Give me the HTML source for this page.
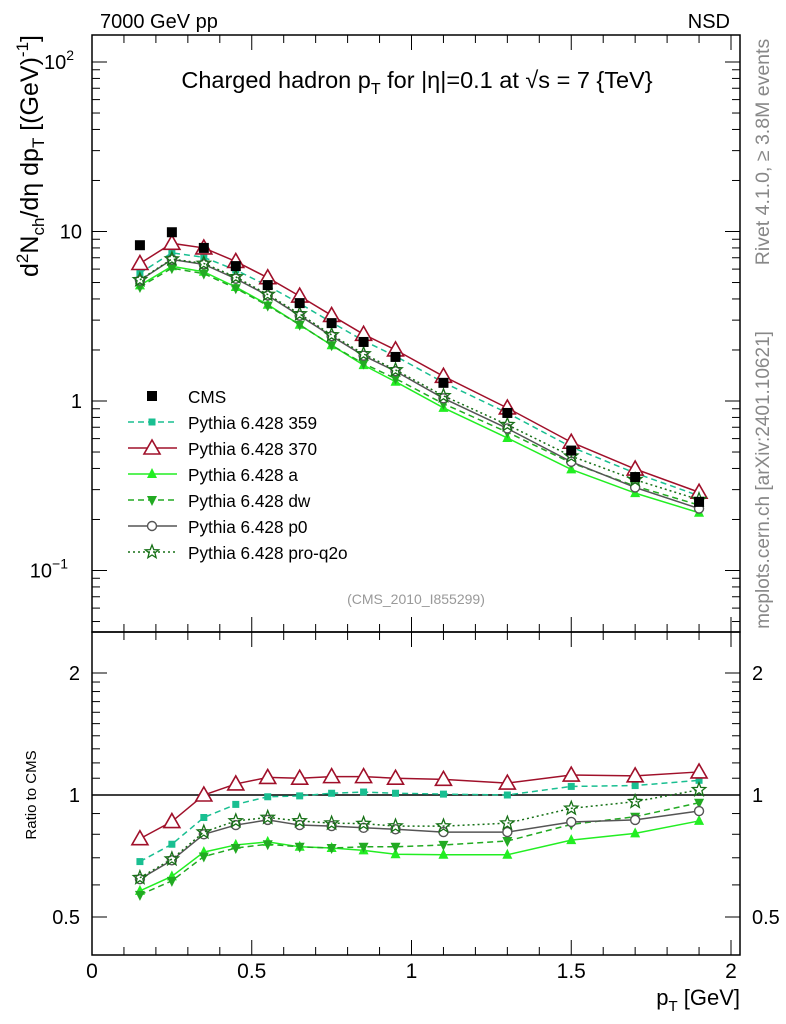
<!DOCTYPE html>
<html><head><meta charset="utf-8"><style>
html,body{margin:0;padding:0;background:#fff;}
svg{display:block;font-family:"Liberation Sans",sans-serif;}
</style></head><body>
<svg id="c" width="786" height="1024" viewBox="0 0 786 1024"></svg>
<script>
const xs = [0.15,0.25,0.35,0.45,0.55,0.65,0.75,0.85,0.95,1.1,1.3,1.5,1.7,1.9];
const cms = [8.3,9.9,8.0,6.25,4.83,3.78,2.88,2.23,1.82,1.28,0.85,0.51,0.356,0.254];
const r359 = [0.685,0.756,0.88,0.948,0.99,0.995,1.01,1.017,1.01,1.005,1.0,1.05,1.055,1.087];
const r370 = [0.78,0.86,1.0,1.065,1.105,1.10,1.11,1.11,1.10,1.093,1.07,1.12,1.115,1.14];
const rA = [0.58,0.63,0.723,0.753,0.766,0.745,0.74,0.73,0.714,0.712,0.712,0.774,0.804,0.863];
const rDW = [0.567,0.614,0.705,0.74,0.756,0.745,0.74,0.745,0.745,0.753,0.77,0.846,0.884,0.957];
const rP0 = [0.62,0.69,0.80,0.843,0.868,0.843,0.838,0.83,0.823,0.81,0.81,0.858,0.868,0.913];
const rPQ = [0.625,0.695,0.81,0.863,0.88,0.863,0.852,0.85,0.838,0.838,0.852,0.927,0.963,1.03];
const xTicks = [0,0.5,1,1.5,2];
const xTickLabels = ["0","0.5","1","1.5","2"];

const S = document.getElementById('c');
const NS = 'http://www.w3.org/2000/svg';
function el(tag, attrs, parent){const e=document.createElementNS(NS,tag);for(const k in attrs)e.setAttribute(k,attrs[k]);(parent||S).appendChild(e);return e;}
const L=92,R=740,T=35,M=632,B=955;
const X = v => L + v*319.5;
const Y = v => 401 - Math.log10(v)*169.5;
const YR = v => 795 - Math.log2(v)*122;

let f1=el('rect',{x:L,y:T,width:R-L,height:M-T,fill:'none',stroke:'#000','stroke-width':1.5});


let f2=el('rect',{x:L,y:M,width:R-L,height:B-M,fill:'none',stroke:'#000','stroke-width':1.5});



for(let i=0;i<=20;i++){const v=i/10;const x=X(v);const maj=i%5==0;const len=maj?15:8;
 for(const [y0,dir] of [[B,-1],[M,-1],[M,1],[T,1]]){
  let t=el('line',{x1:x,x2:x,y1:y0,y2:y0+dir*len,stroke:'#000','stroke-width':1});
  
  
 }}
xTicks.forEach((v,i)=>{let t=el('text',{x:X(v),y:978,'font-size':21,'text-anchor':'middle'});t.textContent=xTickLabels[i];
 
 });

for(let d=-2;d<=2;d++){for(let m=1;m<=9;m++){const v=m*Math.pow(10,d);const y=Y(v);if(y<T||y>M)continue;const len=m==1?15:8;
 for(const [x0,dir] of [[L,1],[R,-1]]){let t=el('line',{x1:x0,x2:x0+dir*len,y1:y,y2:y,stroke:'#000','stroke-width':1});
  
  }}}
const yLab=[[100,'10','2'],[10,'10',''],[1,'1',''],[0.1,'10','−1']];
yLab.forEach(([v,b,e])=>{let t=el('text',{x:80,y:Y(v)+7,'font-size':20,'text-anchor':'end'});t.textContent=b;
 if(e){let s=el('tspan',{dy:-9,'font-size':14},t);s.textContent=e;}
 t.setAttribute('x', e? 82-(e.length>1?14:8):82);
 
 });

const rt=[0.5,0.6,0.7,0.8,0.9,1,1.1,1.2,1.3,1.4,1.5,1.6,1.7,1.8,1.9,2];
rt.forEach(v=>{const y=YR(v);const maj=(v==0.5||v==1||v==2);const len=maj?15:8;
 for(const [x0,dir] of [[L,1],[R,-1]]){let t=el('line',{x1:x0,x2:x0+dir*len,y1:y,y2:y,stroke:'#000','stroke-width':1});
  
  }});
[[2,'2'],[1,'1'],[0.5,'0.5']].forEach(([v,s])=>{
 let t=el('text',{x:80,y:YR(v)+7,'font-size':20,'text-anchor':'end'});t.textContent=s;
 
 
 let t2=el('text',{x:752,y:YR(v)+7,'font-size':20,'text-anchor':'start'});t2.textContent=s;
 
 });
let one=el('line',{x1:L,x2:R,y1:YR(1),y2:YR(1),stroke:'#000','stroke-width':1.5});



function marker(type,x,y,col,g){
 let m;
 if(type=='sq'){m=el('rect',{x:x-5,y:y-5,width:10,height:10,fill:col},g);}
 else if(type=='sqs'){m=el('rect',{x:x-3.5,y:y-3.5,width:7,height:7,fill:col},g);}
 else if(type=='tri'){m=el('polygon',{points:`${x},${y-8} ${x-8},${y+6} ${x+8},${y+6}`,fill:'#fff',stroke:col,'stroke-width':1.6},g);}
 else if(type=='triF'){m=el('polygon',{points:`${x},${y-6} ${x-5},${y+4} ${x+5},${y+4}`,fill:col},g);}
 else if(type=='triD'){m=el('polygon',{points:`${x},${y+6} ${x-5},${y-4} ${x+5},${y-4}`,fill:col},g);}
 else if(type=='circ'){m=el('circle',{cx:x,cy:y,r:4.5,fill:'#fff',stroke:col,'stroke-width':1.4},g);}
 else if(type=='star'){let p=[];for(let k=0;k<10;k++){const a=-Math.PI/2+k*Math.PI/5;const rr=k%2?3:7;p.push((x+rr*Math.cos(a)).toFixed(1)+','+(y+rr*Math.sin(a)).toFixed(1));}
  m=el('polygon',{points:p.join(' '),fill:'none',stroke:col,'stroke-width':1.3},g);}
 
 
}
const series=[
 {name:'359',r:r359,col:'#19bf91',dash:'6,4',mk:'sqs',w:1.5},
 {name:'370',r:r370,col:'#a0102a',dash:'',mk:'tri',w:1.5},
 {name:'a',r:rA,col:'#22ee22',dash:'',mk:'triF',w:1.5},
 {name:'dw',r:rDW,col:'#22aa22',dash:'6,4',mk:'triD',w:1.5},
 {name:'p0',r:rP0,col:'#555555',dash:'',mk:'circ',w:1.5},
 {name:'pro-q2o',r:rPQ,col:'#167016',dash:'2,3',mk:'star',w:1.5},
];
series.forEach(s=>{
 const g=el('g',{});
 
 
 const main=xs.map((x,i)=>[X(x),Y(cms[i]*s.r[i])]);
 const rat=xs.map((x,i)=>[X(x),YR(s.r[i])]);
 [main,rat].forEach(pts=>{
  let pl=el('polyline',{points:pts.map(p=>p.join(',')).join(' '),fill:'none',stroke:s.col,'stroke-width':s.w,'stroke-dasharray':s.dash},g);
  
  
  pts.forEach(p=>marker(s.mk,p[0],p[1],s.col,g));
 });
});
const gc=el('g',{});


xs.forEach((x,i)=>marker('sq',X(x),Y(cms[i]),'#000',gc));

const lg=el('g',{});


const lrows=[{n:'CMS',mk:'sq',col:'#000',line:false}].concat(series.map(s=>({n:'Pythia 6.428 '+s.name,mk:s.mk,col:s.col,dash:s.dash,line:true})));
lrows.forEach((r,i)=>{const y=396+i*26;
 const e=el('g',{},lg);
 
 
 if(r.line){el('line',{x1:128,x2:177,y1:y,y2:y,stroke:r.col,'stroke-width':1.5,'stroke-dasharray':r.dash},e);}
 marker(r.mk,152,y,r.col,e);
 let t=el('text',{x:188,y:y+7,'font-size':17.2},e);t.textContent=r.n;});

function txt(name,attrs,content){let t=el('text',attrs);t.innerHTML=content;return t;}
txt('energy-label',{x:100,y:28,'font-size':20},'7000 GeV pp');
txt('process-label',{x:730,y:28,'font-size':20,'text-anchor':'end'},'NSD');
txt('plot-title',{x:417,y:88,'font-size':23.5,'text-anchor':'middle'},'Charged hadron p<tspan dy="6" font-size="16">T</tspan><tspan dy="-6"> for |η|=0.1 at √s = 7 {TeV}</tspan>');
txt('analysis-id',{x:416,y:604,'font-size':14,'text-anchor':'middle',fill:'#999'},'(CMS_2010_I855299)');
txt('y-axis-title',{x:0,y:0,'font-size':25,'text-anchor':'end',transform:'translate(38,35) rotate(-90)'},'d<tspan dy="-10" font-size="17">2</tspan><tspan dy="10">N</tspan><tspan dy="6" font-size="17">ch</tspan><tspan dy="-6">/dη  dp</tspan><tspan dy="6" font-size="17">T</tspan><tspan dy="-6"> [(GeV)</tspan><tspan dy="-10" font-size="17">-1</tspan><tspan dy="10">]</tspan>');
txt('ratio-axis-title',{x:0,y:0,'font-size':15,'text-anchor':'middle',transform:'translate(36,795) rotate(-90)'},'Ratio to CMS');
txt('x-axis-title',{x:740,y:1005,'font-size':22,'text-anchor':'end'},'p<tspan dy="6" font-size="15">T</tspan><tspan dy="-6"> [GeV]</tspan>');
txt('rivet-label',{x:0,y:0,'font-size':19.5,'text-anchor':'middle',fill:'#888',transform:'translate(769,152) rotate(-90)'},'Rivet 4.1.0, ≥ 3.8M events');
txt('mcplots-label',{x:0,y:0,'font-size':19,'text-anchor':'middle',fill:'#888',transform:'translate(769,480) rotate(-90)'},'mcplots.cern.ch [arXiv:2401.10621]');
</script>
</body></html>
